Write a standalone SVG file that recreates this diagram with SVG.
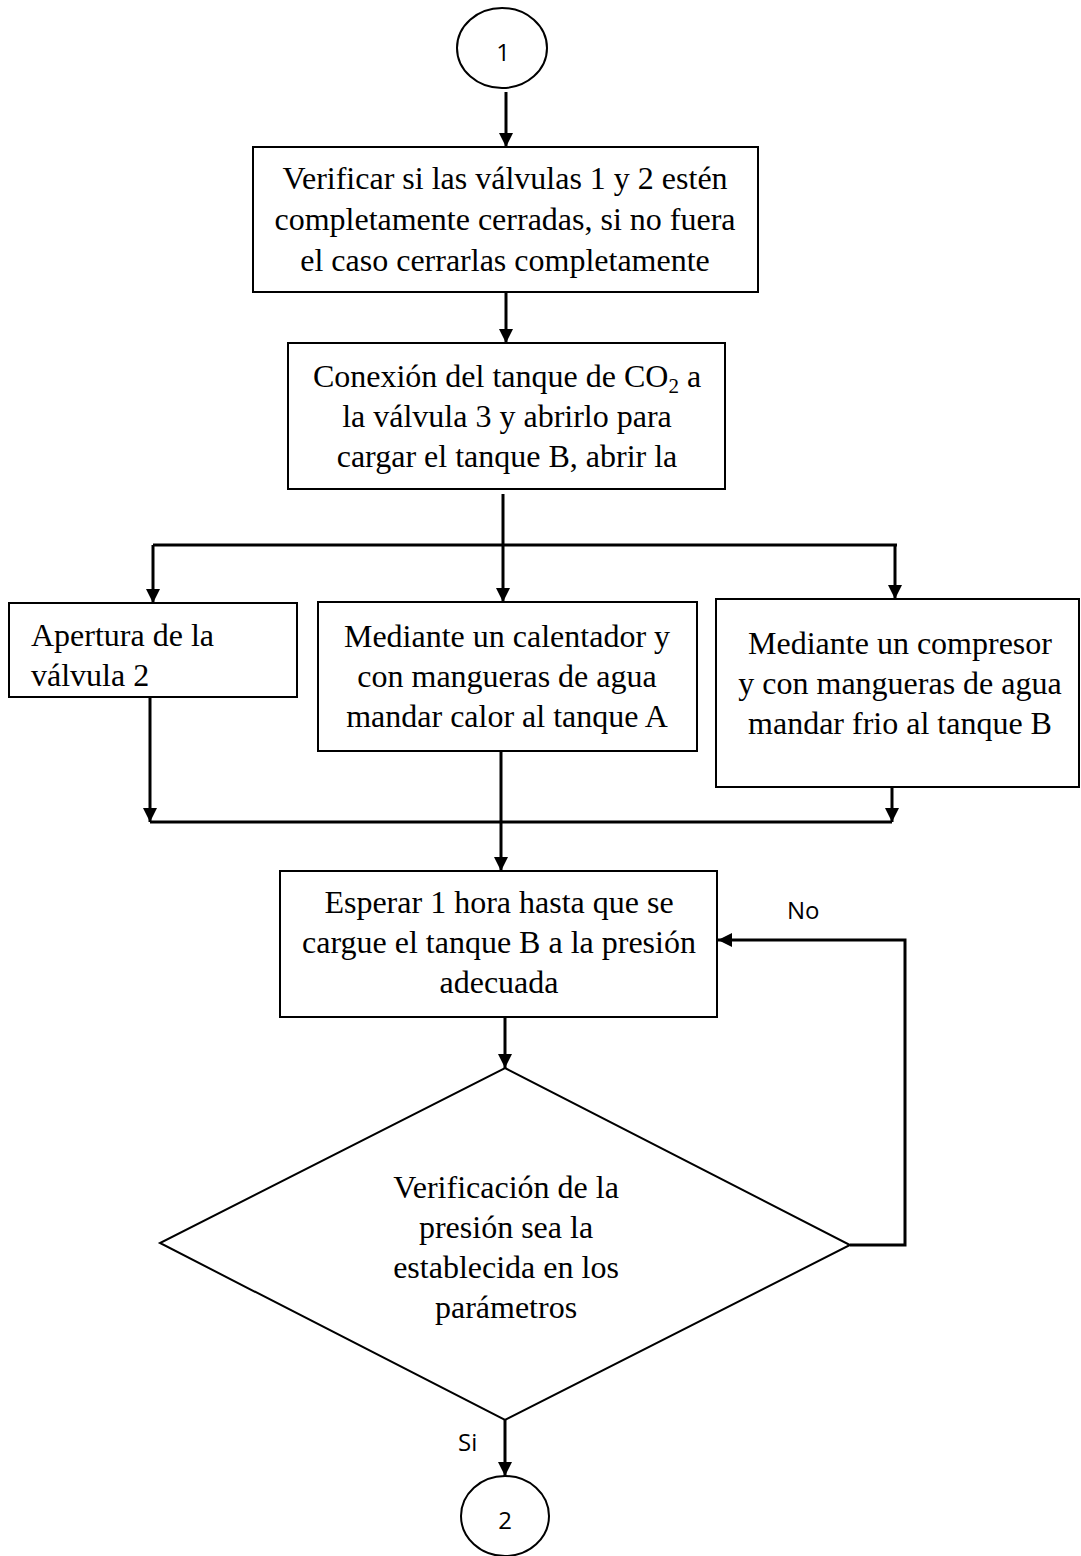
<svg xmlns="http://www.w3.org/2000/svg" width="1081" height="1556" viewBox="0 0 1081 1556">
<style>
.box{fill:#fff;stroke:#000;stroke-width:2}
.t{font-family:"Liberation Serif","Times New Roman",serif;font-size:32px;fill:#000}
.c{text-anchor:middle}
.s{font-family:"Open Sans","Noto Sans",sans-serif;font-size:24px;fill:#000}
.con{fill:none;stroke:#000;stroke-width:3}
.arr{fill:none;stroke:#000;stroke-width:3;marker-end:url(#ah)}
</style>
<defs>
<marker id="ah" markerUnits="userSpaceOnUse" markerWidth="15" markerHeight="15" refX="14" refY="7.5" orient="auto">
<path d="M0,0.5 L14,7.5 L0,14.5 z" fill="#000"/>
</marker>
</defs>
<rect width="1081" height="1556" fill="#fff"/>
<g id="connectors">
<path class="arr" d="M506,92 V147"/>
<path class="arr" d="M506,292 V343"/>
<path class="arr" d="M503,494 V602"/>
<path class="con" d="M153,545 H897"/>
<path class="arr" d="M153,545 V603"/>
<path class="arr" d="M895,545 V599"/>
<path class="arr" d="M150,697 V822"/>
<path class="arr" d="M892,787 V822"/>
<path class="con" d="M150,822 H892"/>
<path class="arr" d="M501,751 V871"/>
<path class="arr" d="M505,1017 V1068"/>
<path class="arr" d="M850,1245 H905 V940 H718"/>
<path class="arr" d="M505,1420 V1476"/>
<text class="s" x="787" y="919">No</text>
<text class="s" x="458" y="1451">Si</text>
</g>
<g id="start">
<ellipse cx="502" cy="48" rx="45" ry="40" class="box"/>
<text class="s c" x="503" y="61">1</text>
</g>
<g id="verificar">
<rect class="box" x="253" y="147" width="505" height="145"/>
<text class="t c" x="505" y="189">Verificar si las válvulas 1 y 2 estén</text>
<text class="t c" x="505" y="230">completamente cerradas, si no fuera</text>
<text class="t c" x="505" y="271">el caso cerrarlas completamente</text>
</g>
<g id="conexion">
<rect class="box" x="288" y="343" width="437" height="146"/>
<text class="t c" x="507" y="387">Conexión del tanque de CO<tspan font-size="21" dy="6">2</tspan><tspan dy="-6"> a</tspan></text>
<text class="t c" x="507" y="427">la válvula 3 y abrirlo para</text>
<text class="t c" x="507" y="467">cargar el tanque B, abrir la</text>
</g>
<g id="apertura">
<rect class="box" x="9" y="603" width="288" height="94"/>
<text class="t" x="31" y="646">Apertura de la</text>
<text class="t" x="31" y="686">válvula 2</text>
</g>
<g id="calentador">
<rect class="box" x="318" y="602" width="379" height="149"/>
<text class="t c" x="507" y="647">Mediante un calentador y</text>
<text class="t c" x="507" y="687">con mangueras de agua</text>
<text class="t c" x="507" y="727">mandar calor al tanque A</text>
</g>
<g id="compresor">
<rect class="box" x="716" y="599" width="363" height="188"/>
<text class="t c" x="900" y="654">Mediante un compresor</text>
<text class="t c" x="900" y="694">y con mangueras de agua</text>
<text class="t c" x="900" y="734">mandar frio al tanque B</text>
</g>
<g id="esperar">
<rect class="box" x="280" y="871" width="437" height="146"/>
<text class="t c" x="499" y="913">Esperar 1 hora hasta que se</text>
<text class="t c" x="499" y="953">cargue el tanque B a la presión</text>
<text class="t c" x="499" y="993">adecuada</text>
</g>
<g id="decision">
<path class="box" d="M505,1068 L850,1245 L505,1420 L160,1243 Z"/>
<text class="t c" x="506" y="1198">Verificación de la</text>
<text class="t c" x="506" y="1238">presión sea la</text>
<text class="t c" x="506" y="1278">establecida en los</text>
<text class="t c" x="506" y="1318">parámetros</text>
</g>
<g id="end">
<ellipse cx="505" cy="1516" rx="44" ry="40" class="box"/>
<text class="s c" x="505" y="1529">2</text>
</g>
</svg>
